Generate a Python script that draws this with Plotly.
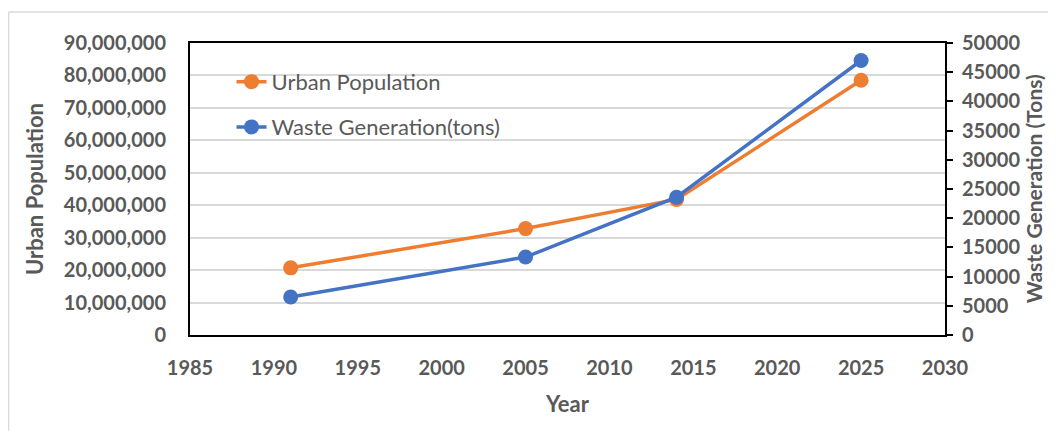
import plotly.graph_objects as go

years = [1991, 2005, 2014, 2025]
urban_population = [20700000, 32800000, 41800000, 78500000]
waste_tons = [6500, 13350, 23600, 47000]

x_ticks = [1985, 1990, 1995, 2000, 2005, 2010, 2015, 2020, 2025, 2030]

ORANGE = "#ED7D31"
BLUE = "#4472C4"
GREY = "#595959"
FONT = "Lato"
TICK = dict(family=FONT, size=20, color=GREY, weight="bold")
TITLE = dict(family=FONT, size=22, color=GREY, weight="bold")

fig = go.Figure()
fig.add_trace(go.Scatter(
    x=years, y=urban_population, name="Urban Population",
    mode="lines+markers", line=dict(color=ORANGE, width=3.5),
    marker=dict(size=15, color=ORANGE), yaxis="y", legend="legend",
    showlegend=True))
fig.add_trace(go.Scatter(
    x=years, y=waste_tons, name="Waste Generation(tons)",
    mode="lines+markers", line=dict(color=BLUE, width=3.5),
    marker=dict(size=15, color=BLUE), yaxis="y2", legend="legend2",
    showlegend=True))

fig.update_layout(
    width=1040, height=423,
    margin=dict(l=182, r=103, t=35, b=96),
    paper_bgcolor="white", plot_bgcolor="white",
    showlegend=True,
    font=dict(family=FONT, color=GREY, size=17),
    xaxis=dict(range=[1985, 2030], tickvals=x_ticks, showgrid=False,
               showline=True, linecolor="black", linewidth=2, mirror=True,
               ticks="", zeroline=False, ticklabelstandoff=14,
               tickfont=TICK,
               title=dict(text="Year", standoff=19, font=TITLE)),
    yaxis=dict(range=[0, 90000000], dtick=10000000, tickformat=",d",
               showgrid=True, gridcolor="#D9D9D9", gridwidth=1.5,
               showline=True, linecolor="black", linewidth=2, mirror=True,
               ticks="", zeroline=False, ticklabelstandoff=18,
               tickfont=TICK,
               title=dict(text="Urban Population", standoff=14, font=TITLE)),
    yaxis2=dict(range=[0, 50000], dtick=5000, tickformat="d",
                overlaying="y", side="right",
                showgrid=False, showline=True, linecolor="black", linewidth=2,
                ticks="outside", ticklen=6, tickwidth=2, tickcolor="black",
                zeroline=False, ticklabelstandoff=5,
                tickfont=TICK),
    legend=dict(x=0.055, y=0.867, xanchor="left", yanchor="middle",
                bgcolor="rgba(0,0,0,0)", font=dict(family=FONT, size=22, color=GREY)),
    legend2=dict(x=0.055, y=0.712, xanchor="left", yanchor="middle",
                 bgcolor="rgba(0,0,0,0)", font=dict(family=FONT, size=22, color=GREY)),
    annotations=[
        dict(text="Waste Generation (Tons)", xref="paper", yref="paper",
             x=1.117, y=0.5, xanchor="center", yanchor="middle",
             textangle=-90, showarrow=False,
             font=dict(family=FONT, size=21, color=GREY, weight="bold")),
    ],
    shapes=[
        dict(type="line", xref="paper", yref="paper", x0=-0.2404, x1=1.2,
             y0=1.106, y1=1.106, line=dict(color="#D9D9D9", width=1.5)),
        dict(type="line", xref="paper", yref="paper", x0=-0.2404, x1=-0.2404,
             y0=-0.4, y1=1.106, line=dict(color="#D9D9D9", width=1.5)),
    ],
)

fig.write_html("out.html")
